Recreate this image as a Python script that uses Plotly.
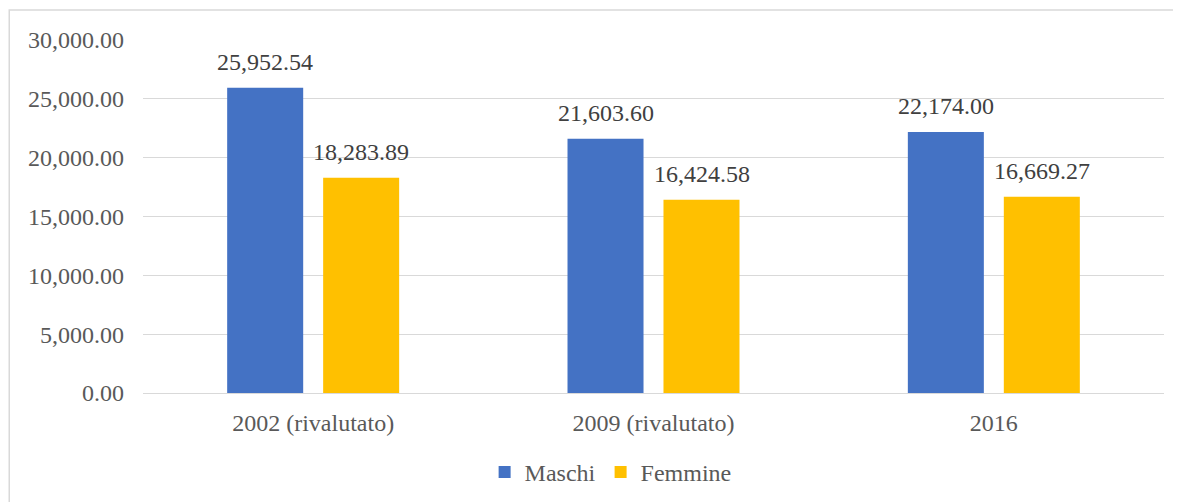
import plotly.graph_objects as go

# ── Data ──────────────────────────────────────────────────────────────────────
categories = ["2002 (rivalutato)", "2009 (rivalutato)", "2016"]
maschi = [25952.54, 21603.60, 22174.00]
femmine = [18283.89, 16424.58, 16669.27]
y_ticks = [0, 5000, 10000, 15000, 20000, 25000, 30000]

COLORS = {
    "maschi": "#4472C4",
    "femmine": "#FFC000",
    "text": "#595959",
    "label": "#404040",
    "grid": "#D9D9D9",
}
FONT = "Liberation Serif"
SIZE = 24


def fmt(v):
    return f"{v:,.2f}"


fig = go.Figure()
series = [("Maschi", maschi, COLORS["maschi"], -48),
          ("Femmine", femmine, COLORS["femmine"], 48)]
for name, vals, col, shift in series:
    fig.add_trace(go.Bar(
        x=categories, y=vals, name=name,
        marker=dict(color=col, line=dict(width=0)),
    ))
    # value labels above each bar (x by category index: "2016" looks numeric)
    for i, v in enumerate(vals):
        fig.add_annotation(
            x=i, y=v, xshift=shift, yshift=11,
            text=fmt(v), showarrow=False, yanchor="bottom",
            font=dict(family=FONT, size=SIZE, color=COLORS["label"]),
        )

# page body adds an 8px margin, so the figure is 8px smaller than the window
fig.update_layout(
    width=1173, height=494,
    margin=dict(l=135, r=17, t=32, b=109, autoexpand=False),
    paper_bgcolor="white", plot_bgcolor="white",
    font=dict(family=FONT, size=SIZE, color=COLORS["text"]),
    barmode="group",
    bargap=0.436,
    bargroupgap=0.208,
    showlegend=True,
    legend=dict(
        orientation="h", x=0.458, xanchor="center",
        yref="container", y=0.06, yanchor="middle",
        font=dict(family=FONT, size=SIZE, color=COLORS["text"]),
        traceorder="normal",
    ),
    xaxis=dict(
        type="category", categoryorder="array", categoryarray=categories,
        range=[-0.5, 2.5],
        showgrid=False, showline=True, linecolor=COLORS["grid"], linewidth=1,
        ticks="", tickfont=dict(family=FONT, size=SIZE, color=COLORS["text"]),
        ticklabelstandoff=8,
    ),
    yaxis=dict(
        range=[0, 30000], tickvals=y_ticks,
        ticktext=[fmt(v) for v in y_ticks],
        showgrid=True, gridcolor=COLORS["grid"], gridwidth=1,
        zeroline=False, showline=False, ticks="",
        tickfont=dict(family=FONT, size=SIZE, color=COLORS["text"]),
        ticklabelstandoff=18,
    ),
)

# outer chart border (runs off the right/bottom edge like the reference)
fig.add_shape(
    type="rect", xref="paper", yref="paper",
    x0=-0.131, x1=1.03, y0=-0.35, y1=1.085,
    line=dict(color=COLORS["grid"], width=1.5), layer="below",
)

fig.write_html("out.html")
